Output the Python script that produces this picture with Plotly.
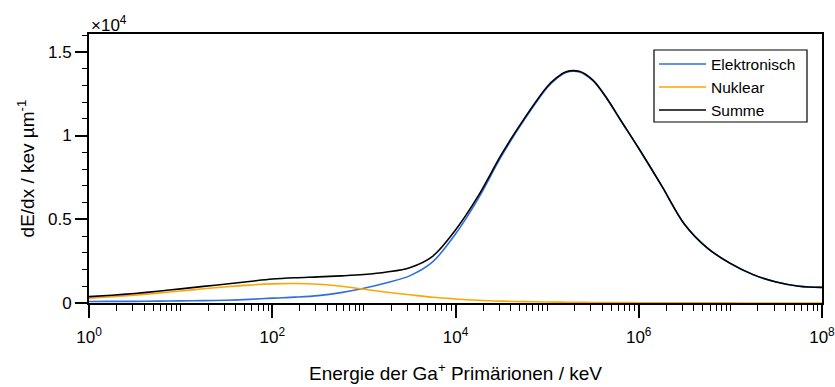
import plotly.graph_objects as go

# Primary ion energy in keV (sample points, log-spaced)
energie_kev = [
    1e0, 10**0.25, 10**0.5, 10**0.75, 1e1, 10**1.25, 10**1.5, 10**1.75,
    1e2, 10**2.25, 10**2.5, 10**2.75, 1e3, 10**3.25, 10**3.5, 10**3.75,
    1e4, 10**4.25, 10**4.5, 10**4.75, 1e5, 10**5.1, 10**5.2, 10**5.35,
    10**5.5, 10**5.65, 10**5.8, 1e6, 10**6.25, 10**6.5, 10**6.75, 1e7,
    10**7.25, 10**7.5, 10**7.75, 1e8,
]

# Stopping power components in keV/µm
elektronisch = [
    90, 95, 100, 110, 125, 140, 165, 215,
    290, 350, 440, 620, 880, 1210, 1620, 2450,
    4120, 6250, 8750, 10930, 12850, 13380, 13750, 13790,
    13270, 12210, 10920, 9220, 6990, 4690, 3270, 2360,
    1690, 1250, 1000, 930,
]
nuklear = [
    290, 370, 470, 590, 720, 850, 970, 1070,
    1140, 1160, 1120, 1000, 820, 640, 490, 340,
    240, 160, 110, 80, 60, 55, 48, 40,
    33, 28, 23, 18, 13, 10, 7, 5,
    4, 3, 2, 2,
]
summe = [
    380, 465, 570, 700, 845, 990, 1135, 1285,
    1430, 1510, 1560, 1620, 1700, 1850, 2110, 2790,
    4360, 6410, 8860, 11010, 12910, 13435, 13798, 13830,
    13303, 12238, 10943, 9238, 7003, 4700, 3277, 2365,
    1694, 1253, 1002, 932,
]

serien = [
    ("Elektronisch", elektronisch, "#2f6fe0"),
    ("Nuklear", nuklear, "#ffa500"),
    ("Summe", summe, "#000000"),
]

y_ticks = [0, 5000, 10000, 15000]
y_ticktext = ["0", "0.5", "1", "1.5"]
x_ticks = [1e0, 1e2, 1e4, 1e6, 1e8]
x_ticktext = ["10<sup>0</sup>", "10<sup>2</sup>", "10<sup>4</sup>",
              "10<sup>6</sup>", "10<sup>8</sup>"]

FONT = "Liberation Sans, Arial, Helvetica, sans-serif"

fig = go.Figure()
for name, werte, farbe in serien:
    fig.add_trace(go.Scatter(
        x=energie_kev, y=werte, mode="lines", name=name,
        line=dict(color=farbe, width=1.6, shape="spline", smoothing=0.9),
        showlegend=False, cliponaxis=True,
    ))

# minor ticks: 1..9 x 10^k, odd decades included as minor
x_minor = [m * 10**k for k in range(0, 8) for m in range(1, 10)
           if not (m == 1 and k % 2 == 0)]

fig.update_xaxes(
    type="log", range=[-0.0005, 8.0005], automargin=False,
    tickvals=x_ticks, ticktext=x_ticktext, ticklabeloverflow="allow",
    ticklabelstandoff=5,
    ticks="outside", ticklen=13, tickwidth=1.5, tickcolor="black",
    minor=dict(tickvals=x_minor, ticks="outside", ticklen=6,
               tickwidth=1.2, tickcolor="black"),
    showline=True, linecolor="black", linewidth=2, mirror=True,
    showgrid=False, zeroline=False,
    tickfont=dict(size=17, color="black", family=FONT),
    title=dict(text="Energie der Ga<sup>+</sup> Primärionen / keV",
               font=dict(size=19, color="black", family=FONT), standoff=20),
)
fig.update_yaxes(
    range=[0, 16060], automargin=False,
    tickvals=y_ticks, ticktext=y_ticktext,
    ticks="outside", ticklen=12, tickwidth=1.5, tickcolor="black",
    minor=dict(dtick=1000, ticks="outside", ticklen=5,
               tickwidth=1.2, tickcolor="black"),
    showline=True, linecolor="black", linewidth=2, mirror=True,
    showgrid=False, zeroline=False,
    tickfont=dict(size=17, color="black", family=FONT),
    title=dict(text="dE/dx / kev µm<sup>-1</sup>",
               font=dict(size=19, color="black", family=FONT), standoff=8),
)

# plot-area geometry in pixels, used to place the legend box
L, R, T, B = 89, 822, 34, 303
W, H = R - L, B - T
def px(x):
    return (x - L) / W
def py(y):
    return (B - y) / H

shapes = [dict(type="rect", xref="paper", yref="paper",
               x0=px(654), x1=px(807), y0=py(122), y1=py(50),
               line=dict(color="black", width=1.2), fillcolor="white")]
annotations = [dict(text="×10<sup>4</sup>", xref="paper", yref="paper",
                    x=px(89), y=py(24), xanchor="left", yanchor="middle",
                    showarrow=False,
                    font=dict(size=17, color="black", family=FONT))]
for i, (name, _, farbe) in enumerate(serien):
    yy = 64 + 23 * i
    shapes.append(dict(type="line", xref="paper", yref="paper",
                       x0=px(659), x1=px(706), y0=py(yy), y1=py(yy),
                       line=dict(color=farbe, width=1.5)))
    annotations.append(dict(text=name, xref="paper", yref="paper",
                            x=px(709), y=py(yy), xanchor="left",
                            yanchor="middle", showarrow=False,
                            font=dict(size=15.5, color="black", family=FONT)))

fig.update_layout(
    width=835, height=387,
    margin=dict(l=L, r=835 - R, t=T, b=387 - B),
    paper_bgcolor="white", plot_bgcolor="white",
    shapes=shapes, annotations=annotations,
    font=dict(family=FONT, color="black"),
)

fig.write_html("out.html")
